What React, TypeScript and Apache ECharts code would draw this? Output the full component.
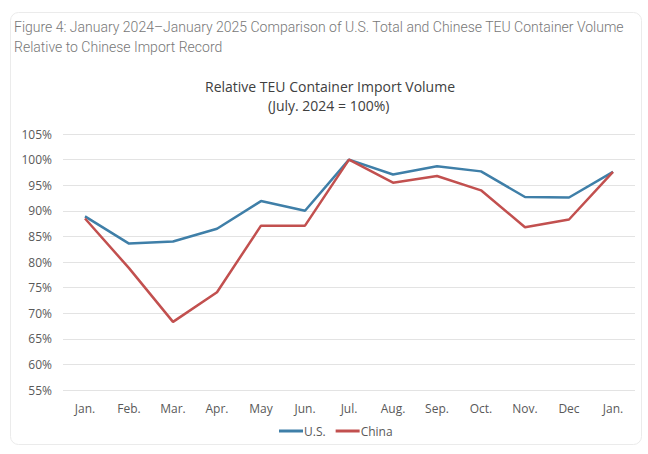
import React, { useEffect, useRef } from "react";
import * as echarts from "echarts";

const months = ["Jan.", "Feb.", "Mar.", "Apr.", "May", "Jun.", "Jul.", "Aug.", "Sep.", "Oct.", "Nov.", "Dec", "Jan."];
const usValues = [88.9, 83.6, 84.0, 86.5, 91.9, 90.0, 100.0, 97.1, 98.7, 97.7, 92.7, 92.6, 97.6];
const chinaValues = [88.5, 78.8, 68.3, 74.1, 87.1, 87.1, 100.0, 95.5, 96.8, 94.0, 86.8, 88.3, 97.6];
const headerLines = [
  "Figure 4: January 2024\u2013January 2025 Comparison of U.S. Total and Chinese TEU Container Volume",
  "Relative to Chinese Import Record",
];
const chartTitle = "Relative TEU Container Import Volume";
const chartSubtitle = "(July. 2024 = 100%)";

export default function App() {
  const ref = useRef<HTMLDivElement>(null);
  useEffect(() => {
    if (!ref.current) return;
    const chart = echarts.init(ref.current, null, { renderer: "svg" });
    const labelFont = "'Open Sans', 'Noto Sans', sans-serif";
    chart.setOption({
      animation: false,
      backgroundColor: "#ffffff",
      title: [
        {
          text: chartTitle,
          left: 205,
          top: 79,
          padding: 0,
          textStyle: { fontFamily: labelFont, fontSize: 14, fontWeight: "normal", color: "#404040" },
        },
        {
          text: chartSubtitle,
          left: 268,
          top: 98,
          padding: 0,
          textStyle: { fontFamily: labelFont, fontSize: 14, fontWeight: "normal", color: "#404040" },
        },
      ],
      graphic: [
        {
          type: "rect",
          shape: { x: 10.5, y: 12.5, width: 631, height: 432, r: 8 },
          style: { fill: "none", stroke: "#ebebeb", lineWidth: 1 },
          silent: true,
        },
        {
          type: "text",
          left: 14,
          top: 17,
          style: {
            text: headerLines.join("\n"),
            fontFamily: "Roboto, sans-serif",
            fontWeight: 300,
            fontSize: 14,
            lineHeight: 20,
            fill: "#777777",
          },
        },
      ],
      legend: {
        bottom: 12,
        left: 274,
        icon: "rect",
        itemWidth: 24,
        itemHeight: 3,
        itemGap: 10,
        textStyle: { fontFamily: labelFont, fontSize: 12, color: "#595959", padding: [0, 0, 0, -4] },
        data: ["U.S.", "China"],
      },
      grid: { left: 63, right: 13, top: 134, bottom: 64 },
      xAxis: {
        type: "category",
        data: months,
        boundaryGap: true,
        axisLine: { show: false },
        axisTick: { show: false },
        axisLabel: { fontFamily: labelFont, fontSize: 12, color: "#595959", margin: 12 },
      },
      yAxis: {
        type: "value",
        min: 55,
        max: 105,
        interval: 5,
        axisLine: { show: false },
        axisTick: { show: false },
        axisLabel: {
          fontFamily: labelFont,
          fontSize: 12,
          color: "#595959",
          margin: 11,
          formatter: (v: number) => `${v}%`,
        },
        splitLine: { lineStyle: { color: "#e3e3e3", width: 1 } },
      },
      series: [
        {
          name: "U.S.",
          type: "line",
          data: usValues,
          symbol: "none",
          lineStyle: { color: "#3f7fa8", width: 2.5 },
          itemStyle: { color: "#3f7fa8" },
        },
        {
          name: "China",
          type: "line",
          data: chinaValues,
          symbol: "none",
          lineStyle: { color: "#c2504f", width: 2.5 },
          itemStyle: { color: "#c2504f" },
        },
      ],
    });
    return () => chart.dispose();
  }, []);
  return (
    <div
      ref={ref}
      style={{ position: "fixed", left: 0, top: 0, width: 648, height: 454 }}
    />
  );
}
